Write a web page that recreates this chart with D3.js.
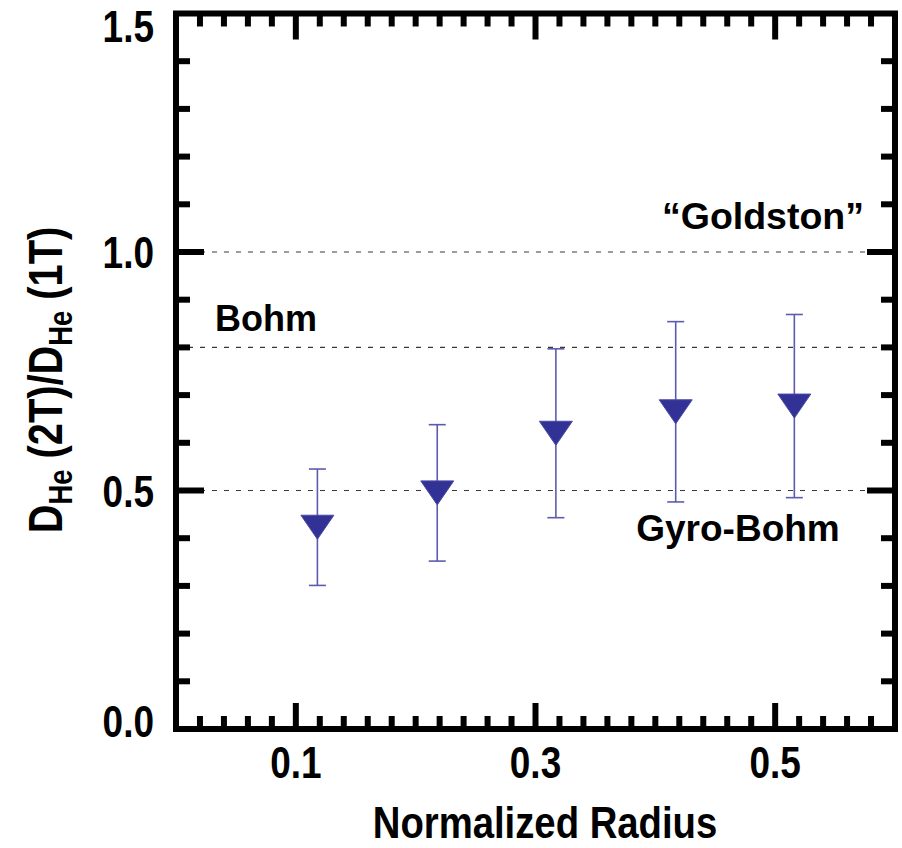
<!DOCTYPE html>
<html>
<head>
<meta charset="utf-8">
<script src="https://cdn.jsdelivr.net/npm/d3@7"></script>
<style>
  html, body { margin: 0; padding: 0; background: #fff; }
  svg text { font-family: "Liberation Sans", Arial, sans-serif; font-weight: bold; fill: #000; }
</style>
</head>
<body>
<svg id="chart" width="902" height="848"></svg>
<script>
// data
const radius = [0.118, 0.218, 0.317, 0.417, 0.516];
const ratio = [0.423, 0.495, 0.620, 0.665, 0.677];
const errHalf = [0.122, 0.143, 0.177, 0.189, 0.192];
const xTickLabels = [0.1, 0.3, 0.5];
const yTickLabels = [0.0, 0.5, 1.0, 1.5];
const refLines = [1.0, 0.8, 0.5];
const refNames = ['\u201CGoldston\u201D', 'Bohm', 'Gyro-Bohm'];

const svg = d3.select('#chart');
const L = 176, R = 895, T = 13.5, B = 729;
const x = d3.scaleLinear().domain([0, 0.6]).range([L, R]);
const y = d3.scaleLinear().domain([0, 1.5]).range([B, T]);

// condensed-looking text: squeeze horizontally around the anchor point
function label(parent, px, py, txt, size, anchor, sx) {
    return parent.append('g').attr('transform', `translate(${px},${py}) scale(${sx},1)`)
        .append('text').attr('text-anchor', anchor).attr('font-size', size).text(txt);
}

// dashed reference lines
svg.append('g').selectAll('line').data(refLines).join('line')
    .attr('x1', L).attr('x2', R).attr('y1', d => y(d)).attr('y2', d => y(d))
    .attr('stroke', '#3a3a3a').attr('stroke-width', 1.2).attr('stroke-dasharray', '5,7');

// reference labels
const refPos = [{ x: 763, y: 229, a: 'middle', fs: 37.5 }, { x: 215, y: 331, a: 'start', fs: 36 }, { x: 738, y: 541, a: 'middle', fs: 37 }];
refNames.forEach((t, i) => label(svg, refPos[i].x, refPos[i].y, t, refPos[i].fs, refPos[i].a, 1));

// error bars
const eb = svg.append('g').attr('stroke', '#5c5cae').attr('stroke-width', 1.6);
radius.forEach((r, i) => {
    const cx = x(r), y1 = y(ratio[i] + errHalf[i]), y2 = y(ratio[i] - errHalf[i]);
    eb.append('line').attr('x1', cx).attr('x2', cx).attr('y1', y1).attr('y2', y2);
    eb.append('line').attr('x1', cx - 8.5).attr('x2', cx + 8.5).attr('y1', y1).attr('y2', y1);
    eb.append('line').attr('x1', cx - 8.5).attr('x2', cx + 8.5).attr('y1', y2).attr('y2', y2);
});

// triangle markers (pointing down)
svg.append('g').selectAll('path').data(radius).join('path')
    .attr('transform', (d, i) => `translate(${x(d)},${y(ratio[i])})`)
    .attr('d', 'M-16.5,-12L16.5,-12L0,12Z')
    .attr('fill', '#323296').attr('stroke', '#4a4aa6').attr('stroke-width', 1);

// frame + ticks
const axisG = svg.append('g').attr('stroke', '#000').attr('stroke-width', 6);
axisG.append('rect').attr('x', L).attr('y', T).attr('width', R - L).attr('height', B - T).attr('fill', 'none');
const xt = d3.range(0.02, 0.6, 0.02);
xt.forEach(v => {
    const major = xTickLabels.some(m => Math.abs(m - v) < 1e-6);
    const len = major ? 26 : 13;
    axisG.append('line').attr('x1', x(v)).attr('x2', x(v)).attr('y1', B).attr('y2', B - len);
    axisG.append('line').attr('x1', x(v)).attr('x2', x(v)).attr('y1', T).attr('y2', T + len);
});
const yt = d3.range(0.1, 1.5, 0.1);
yt.forEach(v => {
    const major = Math.abs(v * 2 - Math.round(v * 2)) < 1e-6;
    const len = major ? 28 : 14;
    axisG.append('line').attr('y1', y(v)).attr('y2', y(v)).attr('x1', L).attr('x2', L + len);
    axisG.append('line').attr('y1', y(v)).attr('y2', y(v)).attr('x1', R).attr('x2', R - len);
});

// tick labels
xTickLabels.forEach(d => label(svg, x(d), 778, d.toFixed(1), 44, 'middle', 0.84));
yTickLabels.forEach(d => label(svg, 154, Math.min(Math.max(y(d), 26), 721) + 16, d.toFixed(1), 44, 'end', 0.84));

// axis titles
label(svg, 545, 838, 'Normalized Radius', 44, 'middle', 0.87);
const yg = svg.append('g').attr('transform', 'translate(62,380) rotate(-90) scale(0.83,1)');
const yl = yg.append('text').attr('text-anchor', 'middle').attr('font-size', 48);
yl.append('tspan').text('D');
yl.append('tspan').attr('font-size', 33).attr('dy', 10).text('He');
yl.append('tspan').attr('dy', -10).text(' (2T)/D');
yl.append('tspan').attr('font-size', 33).attr('dy', 10).text('He');
yl.append('tspan').attr('dy', -10).text(' (1T)');
</script>
</body>
</html>
